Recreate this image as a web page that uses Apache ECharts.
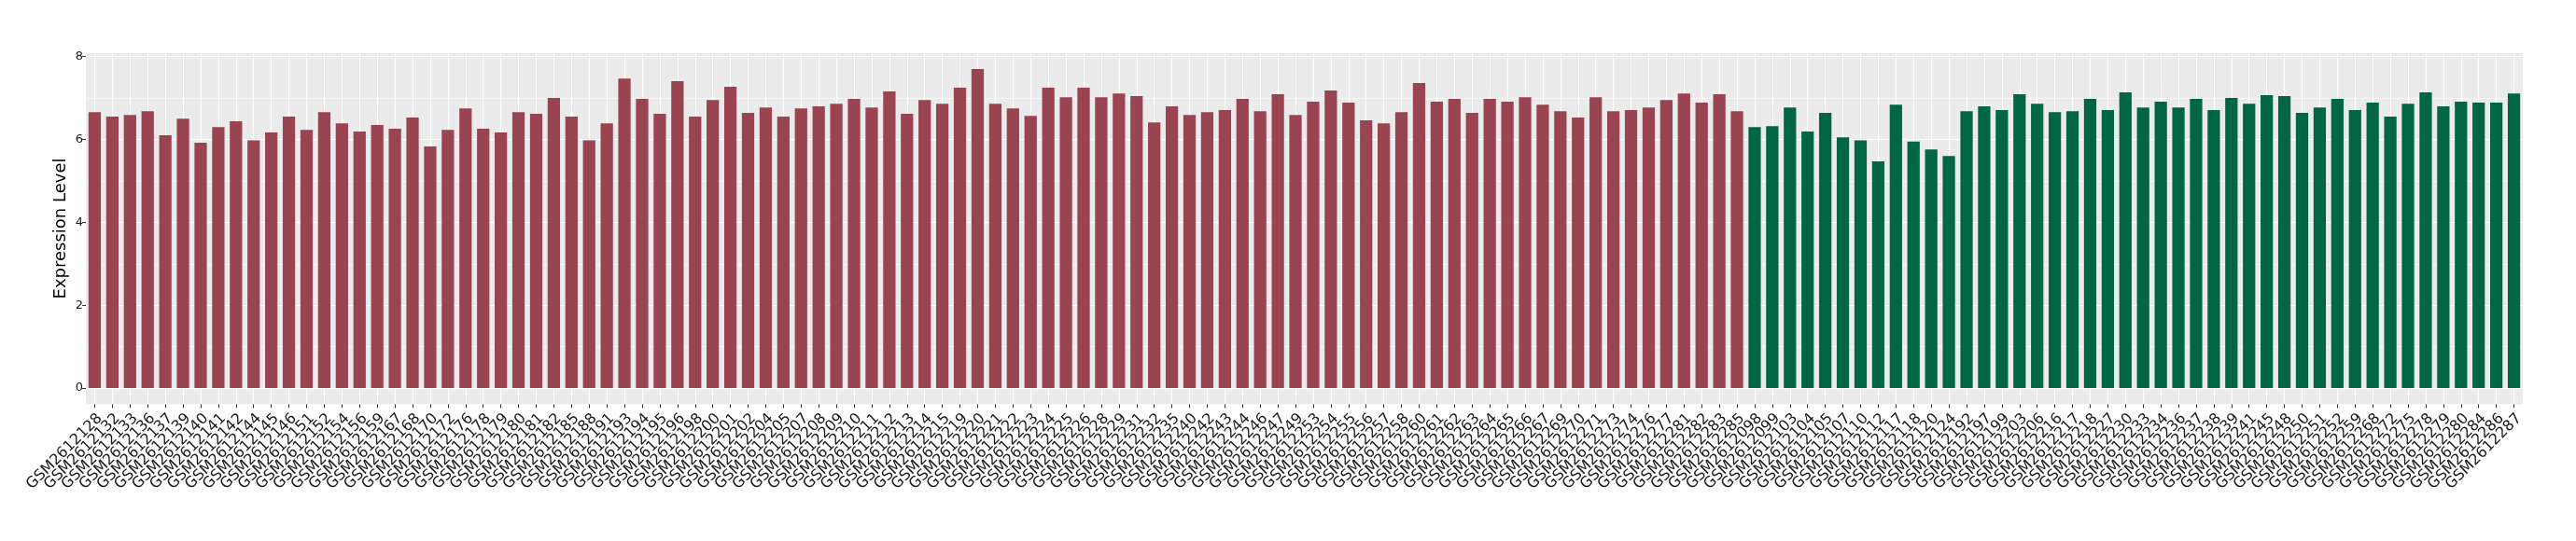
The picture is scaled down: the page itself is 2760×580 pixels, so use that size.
<!DOCTYPE html>
<html><head><meta charset="utf-8">
<script src="https://cdn.jsdelivr.net/npm/echarts@6/dist/echarts.min.js"></script>
<style>html,body{margin:0;padding:0;background:#fff}#c{width:2760px;height:580px}</style>
</head><body><div id="c"></div>
<script>
// Group 1 (red) sample labels and values
const redSamples = ['GSM2612128','GSM2612132','GSM2612133','GSM2612136','GSM2612137','GSM2612139','GSM2612140','GSM2612141','GSM2612142','GSM2612144',
'GSM2612145','GSM2612146','GSM2612151','GSM2612152','GSM2612154','GSM2612156','GSM2612159','GSM2612167','GSM2612168','GSM2612170',
'GSM2612172','GSM2612176','GSM2612178','GSM2612179','GSM2612180','GSM2612181','GSM2612182','GSM2612185','GSM2612188','GSM2612191',
'GSM2612193','GSM2612194','GSM2612195','GSM2612196','GSM2612198','GSM2612200','GSM2612201','GSM2612202','GSM2612204','GSM2612205',
'GSM2612207','GSM2612208','GSM2612209','GSM2612210','GSM2612211','GSM2612212','GSM2612213','GSM2612214','GSM2612215','GSM2612219',
'GSM2612220','GSM2612221','GSM2612222','GSM2612223','GSM2612224','GSM2612225','GSM2612226','GSM2612228','GSM2612229','GSM2612231',
'GSM2612232','GSM2612235','GSM2612240','GSM2612242','GSM2612243','GSM2612244','GSM2612246','GSM2612247','GSM2612249','GSM2612253',
'GSM2612254','GSM2612255','GSM2612256','GSM2612257','GSM2612258','GSM2612260','GSM2612261','GSM2612262','GSM2612263','GSM2612264',
'GSM2612265','GSM2612266','GSM2612267','GSM2612269','GSM2612270','GSM2612271','GSM2612273','GSM2612274','GSM2612276','GSM2612277',
'GSM2612281','GSM2612282','GSM2612283','GSM2612285'];
const redValues = [6.66,6.55,6.59,6.68,6.10,6.50,5.92,6.30,6.44,5.98,6.17,6.55,6.23,6.66,6.39,6.19,6.35,6.26,6.53,5.83,
6.23,6.75,6.26,6.17,6.66,6.62,7.00,6.55,5.98,6.39,
7.47,6.98,6.62,7.41,6.55,6.95,7.27,6.64,6.77,6.55,6.75,6.80,6.86,6.98,6.77,7.16,6.62,6.95,6.86,7.25,7.70,6.86,6.75,6.57,7.25,7.02,7.25,7.02,
7.11,7.05,6.41,6.80,6.59,6.66,6.71,6.98,6.68,7.09,6.59,6.91,7.18,6.89,6.46,6.39,6.66,7.36,6.91,6.98,6.64,6.98,6.91,7.02,6.84,6.68,6.53,7.02,6.68,
6.71,6.77,6.95,7.11,6.89,7.09,6.68];
// Group 2 (green)
const greenSamples = ['GSM2612098','GSM2612099','GSM2612103','GSM2612104','GSM2612105','GSM2612107','GSM2612110','GSM2612112','GSM2612117','GSM2612118',
'GSM2612120','GSM2612124','GSM2612192','GSM2612197','GSM2612199','GSM2612203','GSM2612206','GSM2612216','GSM2612217','GSM2612218',
'GSM2612227','GSM2612230','GSM2612233','GSM2612234','GSM2612236','GSM2612237','GSM2612238','GSM2612239','GSM2612241','GSM2612245',
'GSM2612248','GSM2612250','GSM2612251','GSM2612252','GSM2612259','GSM2612268','GSM2612272','GSM2612275','GSM2612278','GSM2612279',
'GSM2612280','GSM2612284','GSM2612286','GSM2612287'];
const greenValues = [6.30,6.32,6.77,6.19,6.64,6.05,5.98,5.47,6.84,5.95,5.76,5.60,
6.68,6.80,6.71,7.09,6.86,6.66,6.68,6.98,6.71,7.14,
6.77,6.91,6.77,6.98,6.71,7.00,6.86,7.07,7.05,6.64,6.77,6.98,6.71,6.89,6.55,6.86,7.14,6.80,6.91,6.89,6.89,7.11];
const yTicks = [0, 2, 4, 6, 8];
const yTitle = 'Expression Level';

const categories = redSamples.concat(greenSamples);
const redData = redValues.concat(greenSamples.map(() => '-'));
const greenData = redSamples.map(() => '-').concat(greenValues);

const FONT = 'DejaVu Sans';
const L = 92, R = 57;
const chart = echarts.init(document.getElementById('c'), null, {renderer: 'canvas'});
chart.setOption({
  animation: false,
  backgroundColor: '#ffffff',
  grid: [
    {left: L, right: R, top: 57, bottom: 146.6, show: true, backgroundColor: '#EBEBEB', borderWidth: 0},
    {left: L, right: R, top: 60.7, bottom: 164, show: false}
  ],
  xAxis: [
    {type: 'category', gridIndex: 0, data: categories, boundaryGap: true,
     axisLine: {show: false},
     axisTick: {show: true, alignWithLabel: true, length: 4, lineStyle: {color: '#333333', width: 1}},
     axisLabel: {interval: 0, rotate: 45, fontSize: 16, fontFamily: FONT, color: '#1a1a1a', margin: 7, verticalAlign: 'top', align: 'right'},
     splitLine: {show: true, alignWithLabel: true, interval: 0, lineStyle: {color: '#ffffff', width: 1.2}}},
    {type: 'category', gridIndex: 1, data: categories, boundaryGap: true, show: false}
  ],
  yAxis: [
    {type: 'value', gridIndex: 0, min: 0, max: 1, show: false},
    {type: 'value', gridIndex: 1, min: yTicks[0], max: yTicks[yTicks.length - 1], interval: 2,
     axisLine: {show: false},
     axisTick: {show: true, length: 4, lineStyle: {color: '#333333', width: 1}},
     axisLabel: {fontSize: 13, fontFamily: FONT, color: '#1a1a1a', margin: 3},
     splitLine: {show: true, lineStyle: {color: '#ffffff', width: 1.2}},
     minorTick: {show: false, splitNumber: 2},
     minorSplitLine: {show: true, lineStyle: {color: '#ffffff', width: 0.6}}}
  ],
  graphic: [
    {type: 'text', x: 65, y: 245, rotation: Math.PI / 2,
     style: {text: yTitle, fontSize: 18, fontFamily: FONT, fill: '#000000', textAlign: 'center', textVerticalAlign: 'middle'}}
  ],
  series: [
    {type: 'bar', xAxisIndex: 1, yAxisIndex: 1, data: redData, barWidth: '70%', barGap: '-100%',
     itemStyle: {color: '#9A4351'}, silent: true},
    {type: 'bar', xAxisIndex: 1, yAxisIndex: 1, data: greenData, barWidth: '70%', barGap: '-100%',
     itemStyle: {color: '#006644'}, silent: true}
  ]
});
</script></body></html>
